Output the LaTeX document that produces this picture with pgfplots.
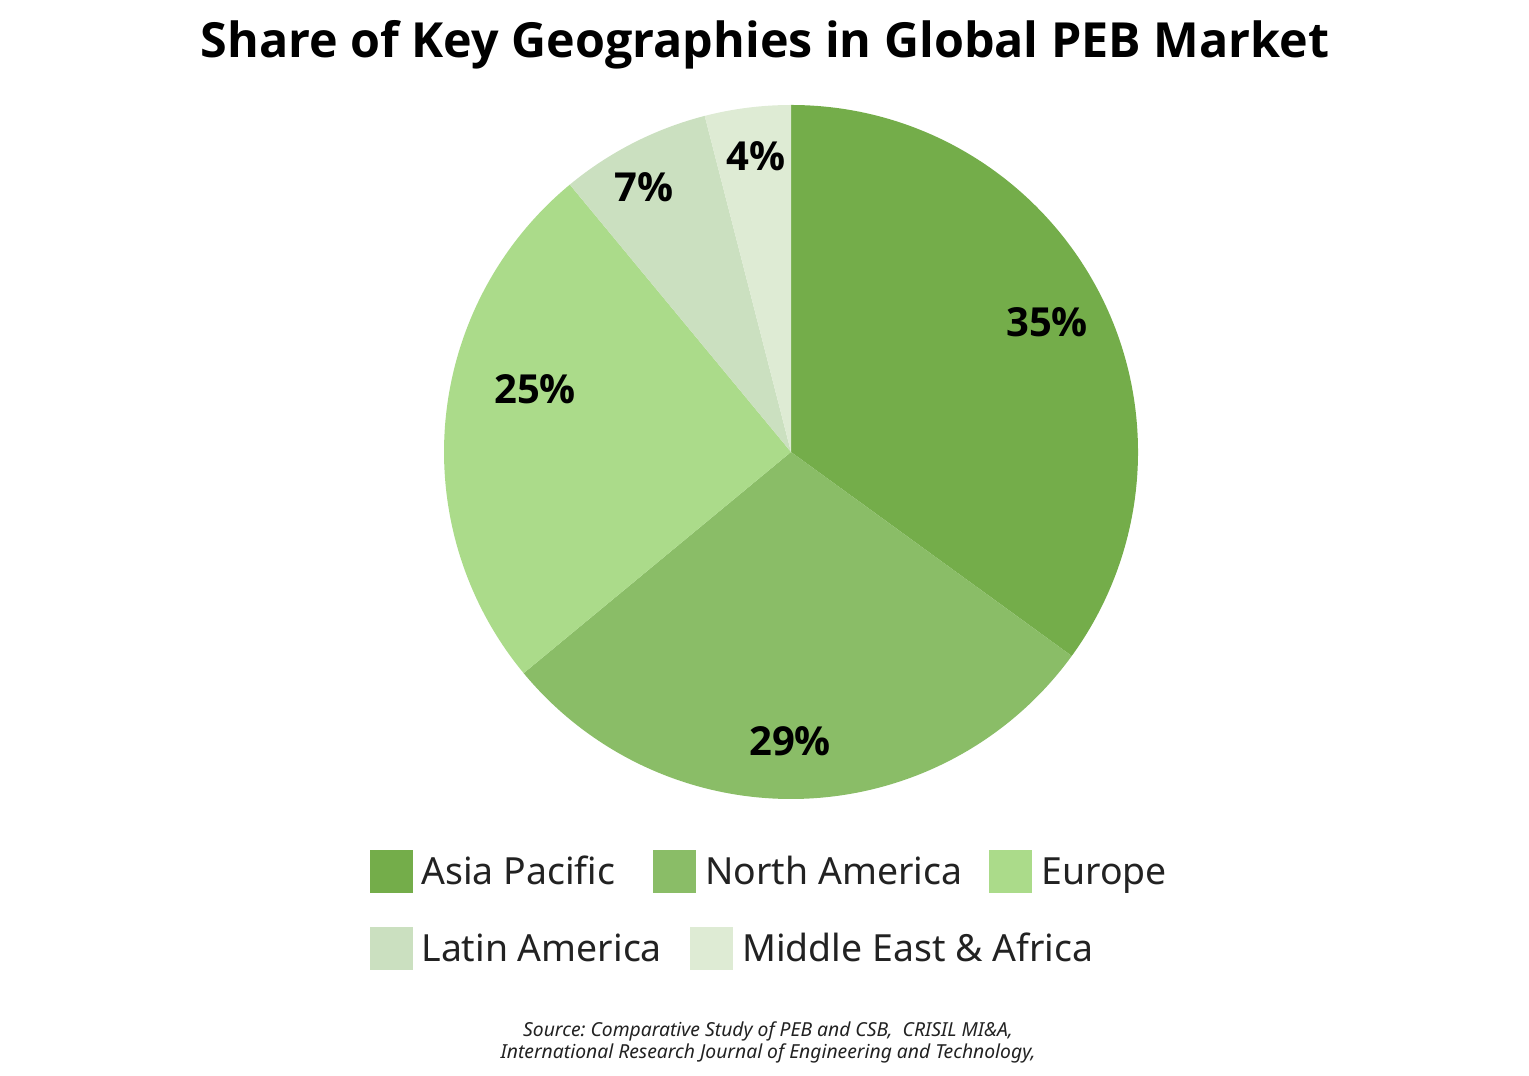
\documentclass[border=0pt]{standalone}
\usepackage{pgfplots}
\pgfplotsset{compat=1.18}
\usepackage{pgfplotstable}
\usepackage{fontspec}
\setmainfont{Noto Sans}
\newfontfamily\titlefont{Open Sans}
\newfontfamily\labfam{Open Sans}
\frenchspacing

\definecolor{asia}{HTML}{74AD4A}
\definecolor{namer}{HTML}{8ABD67}
\definecolor{europe}{HTML}{ABDB8A}
\definecolor{latam}{HTML}{CBE0C0}
\definecolor{mea}{HTML}{DEEBD4}
\definecolor{txt}{HTML}{222222}

% share in %, fill colour, label position (pixel grid of the picture, y up)
\pgfplotstableread[col sep=comma]{
share,colour,lx,ly
35,asia,1047,753
29,namer,790,334
25,europe,535,686
7,latam,644,888
4,mea,756,919
}\piedata

\newcommand\labfont{\labfam\bfseries\fontsize{20}{24}\selectfont}
\newcommand\legfont{\fontsize{18.7}{22}\selectfont}

\begin{document}
\begin{tikzpicture}
\begin{axis}[
    at={(0,0)}, anchor=south west,
    x=0.5pt, y=0.5pt,
    xmin=0, xmax=1529, ymin=0, ymax=1075,
    hide axis, clip=false,
]
% pie: centre (791,623), radius 347 px, clockwise from 12 o'clock
\pgfmathsetmacro{\cum}{0}
\pgfplotsforeachungrouped \i in {0,...,4}{
    \pgfplotstablegetelem{\i}{share}\of\piedata \let\sh=\pgfplotsretval
    \pgfplotstablegetelem{\i}{colour}\of\piedata \let\col=\pgfplotsretval
    \pgfplotstablegetelem{\i}{lx}\of\piedata \let\lx=\pgfplotsretval
    \pgfplotstablegetelem{\i}{ly}\of\piedata \let\ly=\pgfplotsretval
    \pgfmathsetmacro{\angA}{90-3.6*\cum}
    \pgfmathsetmacro{\angB}{90-3.6*(\cum+\sh)}
    \edef\wedge{%
        \noexpand\fill[\col] (axis cs:791,623) -- ++(\angA:173.5pt)
            arc[start angle=\angA, end angle=\angB, radius=173.5pt] -- cycle;
        \noexpand\node[font=\noexpand\labfont, text=black] at (axis cs:\lx,\ly) {\sh\noexpand\%};
    }
    \wedge
    \pgfmathsetmacro{\cum}{\cum+\sh}
}

% title
\node[font=\titlefont\bfseries\fontsize{24.2}{29}\selectfont] at (axis cs:765,1030)
    {Share of Key Geographies in Global PEB Market};

% legend
\fill[asia]   (axis cs:370,182) rectangle (axis cs:413,225);
\fill[namer]  (axis cs:653,182) rectangle (axis cs:696,225);
\fill[europe] (axis cs:989,182) rectangle (axis cs:1032,225);
\fill[latam]  (axis cs:370,105) rectangle (axis cs:413,148);
\fill[mea]    (axis cs:690,105) rectangle (axis cs:733,148);
\node[anchor=base west, font=\legfont, text=txt, inner sep=0pt] at (axis cs:421,190) {Asia Pacific};
\node[anchor=base west, font=\legfont, text=txt, inner sep=0pt] at (axis cs:705,190) {North America};
\node[anchor=base west, font=\legfont, text=txt, inner sep=0pt] at (axis cs:1041,190) {Europe};
\node[anchor=base west, font=\legfont, text=txt, inner sep=0pt] at (axis cs:421,113) {Latin America};
\node[anchor=base west, font=\legfont, text=txt, inner sep=0pt] at (axis cs:742,113) {Middle East \& Africa};

% source
\node[anchor=base, font=\itshape\fontsize{9.65}{11}\selectfont, text=txt, inner sep=0pt] at (axis cs:768,39)
    {Source: Comparative Study of PEB and CSB,\ \ CRISIL MI\&A,};
\node[anchor=base, font=\itshape\fontsize{9.65}{11}\selectfont, text=txt, inner sep=0pt] at (axis cs:768,17)
    {International Research Journal of Engineering and Technology,};
\end{axis}
\path (0,0) rectangle (764.5pt,537.5pt);
\end{tikzpicture}
\end{document}
